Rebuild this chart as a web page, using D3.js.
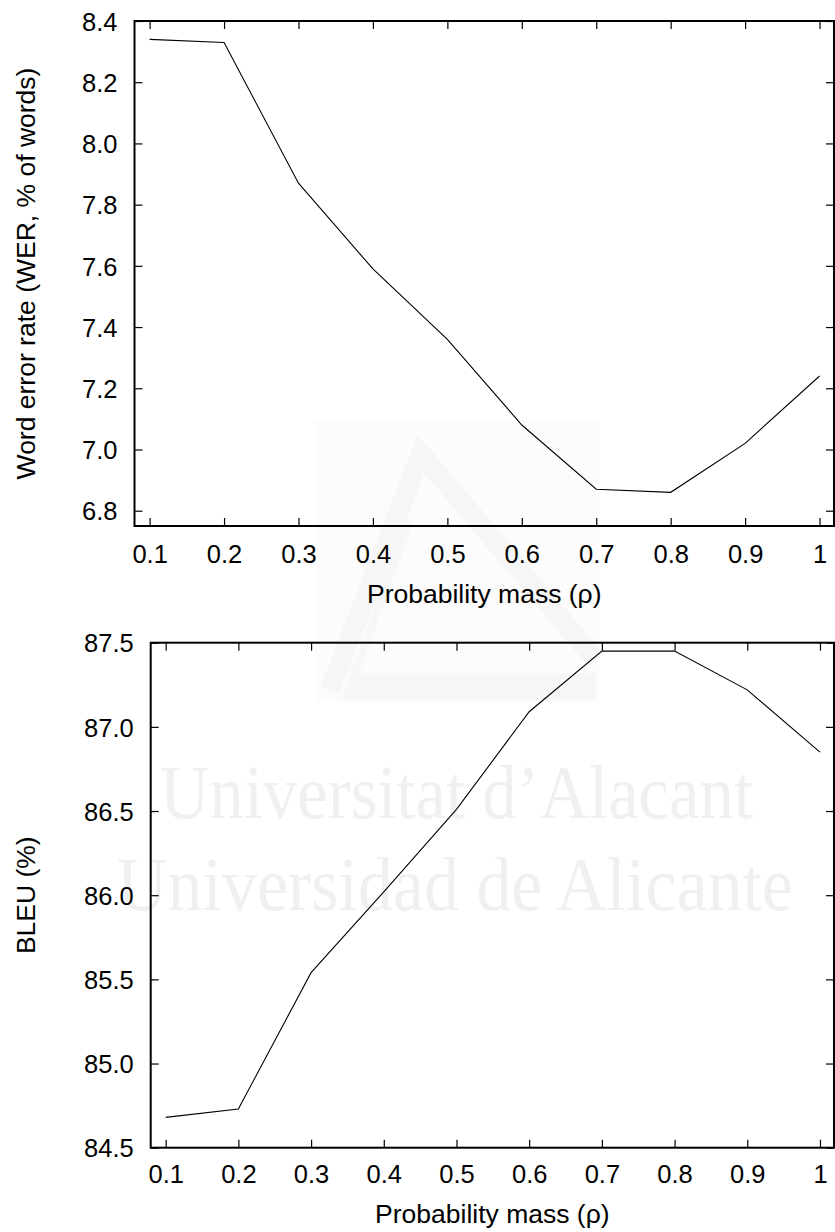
<!DOCTYPE html>
<html>
<head>
<meta charset="utf-8">
<script src="https://cdn.jsdelivr.net/npm/d3@7"></script>
<style>
  html, body { margin: 0; padding: 0; background: #fff; }
  svg { display: block; }
  text { font-family: "Liberation Sans", Arial, sans-serif; fill: #000; }
</style>
</head>
<body>
<svg id="chart" width="835" height="1232"></svg>
<script>
// ---- data ----
const probabilityMass = [0.1, 0.2, 0.3, 0.4, 0.5, 0.6, 0.7, 0.8, 0.9, 1.0];
const werValues  = [8.34, 8.33, 7.87, 7.59, 7.36, 7.08, 6.87, 6.86, 7.02, 7.24];
const bleuValues = [84.68, 84.73, 85.54, 86.02, 86.51, 87.09, 87.45, 87.45, 87.22, 86.85];
const xTicks = [0.1, 0.2, 0.3, 0.4, 0.5, 0.6, 0.7, 0.8, 0.9, 1];
const werTicks = [6.8, 7.0, 7.2, 7.4, 7.6, 7.8, 8.0, 8.2, 8.4];
const bleuTicks = [84.5, 85.0, 85.5, 86.0, 86.5, 87.0, 87.5];
const xTitle = "Probability mass (\u03c1)";
const werTitle = "Word error rate (WER, % of words)";
const bleuTitle = "BLEU (%)";
const watermarkLines = ["Universitat d\u2019Alacant", "Universidad de Alicante"];

const svg = d3.select("#chart");

// ---- very faint watermark ----
const wm = svg.append("g").attr("class", "watermark");
wm.append("rect").attr("x", 315).attr("y", 420).attr("width", 284).attr("height", 282).attr("fill", "#fcfcfc");
wm.append("path")
  .attr("d", "M330,690 L421,454 L596,660")
  .attr("fill", "none").attr("stroke", "#f6f6f6").attr("stroke-width", 20).attr("stroke-linejoin", "miter");
wm.append("path")
  .attr("d", "M345,700 L410,520")
  .attr("fill", "none").attr("stroke", "#f7f7f7").attr("stroke-width", 8);
wm.append("rect").attr("x", 349).attr("y", 673).attr("width", 247).attr("height", 27).attr("fill", "#f6f6f6");
wm.selectAll("text.wm").data(watermarkLines).join("text")
  .attr("class", "wm")
  .attr("x", (d, i) => i === 0 ? 160 : 117)
  .attr("y", (d, i) => i === 0 ? 818 : 910)
  .attr("textLength", (d, i) => i === 0 ? 593 : 676)
  .attr("lengthAdjust", "spacingAndGlyphs")
  .style("font-family", "'Liberation Serif', 'Times New Roman', serif")
  .style("font-size", "76px")
  .style("fill", "#f0f0f0")
  .text(d => d);

const tickFont = "25.5px";
const titleFont = "26.5px";

function panel(cfg) {
  const { left, right, top, bottom, xDomain, yDomain, yTicks, yFmt, values, yTitle } = cfg;
  const x = d3.scaleLinear().domain(xDomain).range([left, right]);
  const y = d3.scaleLinear().domain(yDomain).range([bottom, top]);
  const g = svg.append("g");
  const tick = 8;

  const bx = g.append("g").attr("transform", `translate(0,${bottom})`)
    .call(d3.axisBottom(x).tickValues(xTicks).tickSize(-tick).tickFormat(d => d === 1 ? "1" : d3.format(".1f")(d)));
  const tx = g.append("g").attr("transform", `translate(0,${top})`)
    .call(d3.axisTop(x).tickValues(xTicks).tickSize(-tick).tickFormat(""));
  const ly = g.append("g").attr("transform", `translate(${left},0)`)
    .call(d3.axisLeft(y).tickValues(yTicks).tickSize(-tick).tickFormat(d3.format(yFmt)));
  const ry = g.append("g").attr("transform", `translate(${right},0)`)
    .call(d3.axisRight(y).tickValues(yTicks).tickSize(-tick).tickFormat(""));

  [bx, tx, ly, ry].forEach(a => {
    a.select(".domain").remove();
    a.selectAll(".tick line").attr("stroke", "#000").attr("stroke-width", 1.2);
  });
  bx.selectAll(".tick text")
    .attr("y", cfg.xLabelOffset).attr("dy", null)
    .style("font-size", tickFont).style("font-family", "'Liberation Sans', Arial, sans-serif").attr("fill", "#000");
  ly.selectAll(".tick text")
    .attr("x", -17).attr("dy", "0.36em")
    .style("font-size", tickFont).style("font-family", "'Liberation Sans', Arial, sans-serif").attr("fill", "#000");

  g.append("rect").attr("x", left).attr("y", top).attr("width", right - left).attr("height", bottom - top)
    .attr("fill", "none").attr("stroke", "#000").attr("stroke-width", 2);

  const line = d3.line().x((d, i) => x(probabilityMass[i])).y(d => y(d));
  g.append("path").datum(values).attr("d", line)
    .attr("fill", "none").attr("stroke", "#000").attr("stroke-width", 1.1);

  g.append("text").attr("x", (left + right) / 2).attr("y", cfg.xTitleY)
    .attr("text-anchor", "middle").style("font-size", titleFont).text(xTitle);
  g.append("text").attr("transform", `translate(35,${(top + bottom) / 2}) rotate(-90)`)
    .attr("text-anchor", "middle").style("font-size", titleFont).text(yTitle);
}

panel({
  left: 134.5, right: 834, top: 21, bottom: 526,
  xDomain: [0.0797, 1.0194], yDomain: [6.75, 8.4],
  yTicks: werTicks, yFmt: ".1f", values: werValues, yTitle: werTitle,
  xLabelOffset: 37, xTitleY: 603
});
panel({
  left: 150.7, right: 834, top: 642.7, bottom: 1147.7,
  xDomain: [0.0794, 1.0193], yDomain: [84.5, 87.5],
  yTicks: bleuTicks, yFmt: ".1f", values: bleuValues, yTitle: bleuTitle,
  xLabelOffset: 35.5, xTitleY: 1223
});
</script>
</body>
</html>
